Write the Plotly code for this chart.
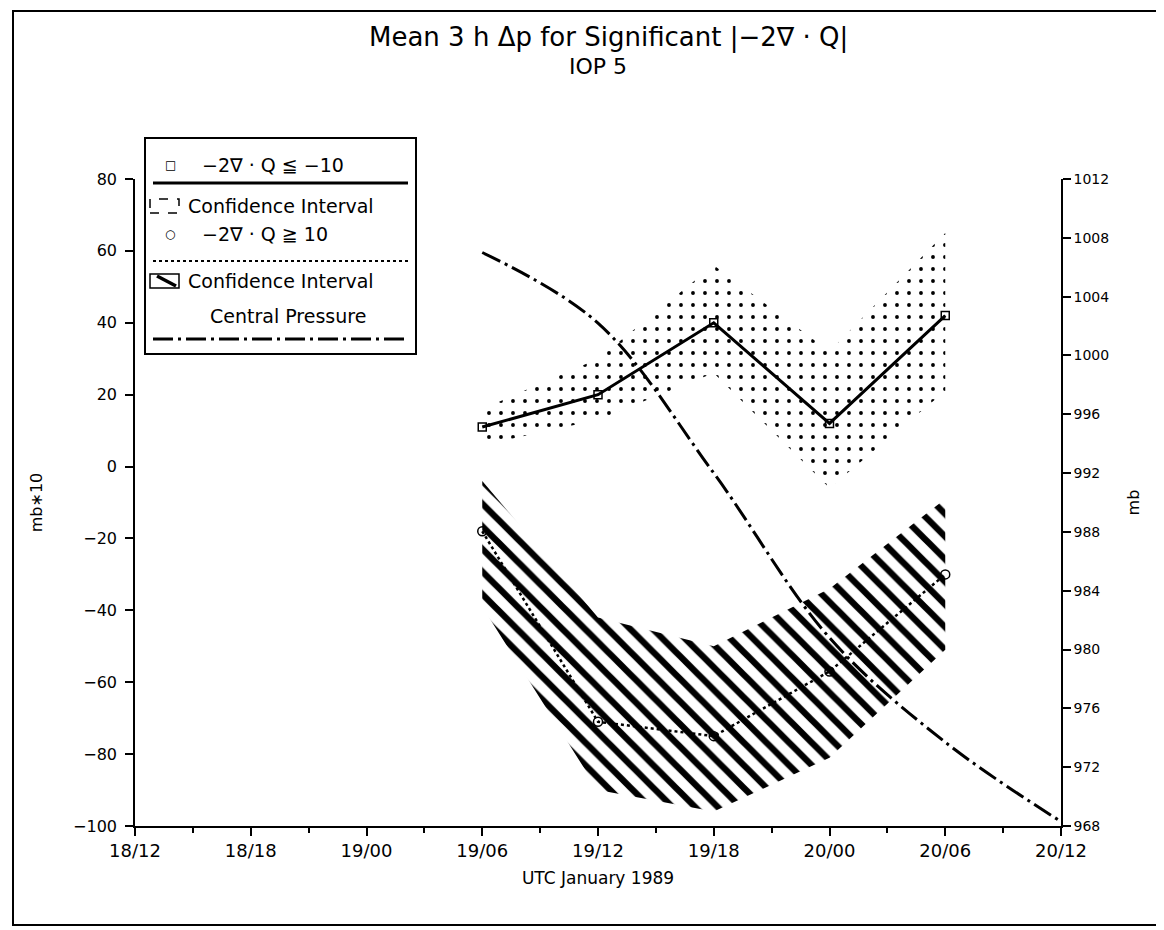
import plotly.graph_objects as go

# --- DATA ---
times = ["1989-01-19 06:00", "1989-01-19 12:00", "1989-01-19 18:00",
         "1989-01-20 00:00", "1989-01-20 06:00"]

# -2 div Q <= -10 : mean 3 h pressure change (mb*10) and its confidence interval
neg_mean = [11, 20, 40, 12, 42]
neg_low = [6, 13, 26, -6, 21]
neg_high = [16, 30, 56, 32, 65]

# -2 div Q >= 10 : mean 3 h pressure change (mb*10) and its confidence interval
pos_mean = [-18, -71, -75, -57, -30]
pos_low = [-39, -90, -96, -81, -51]
pos_high = [-4, -42, -50, -34, -9]

# central pressure (mb), right axis
cp_times = ["1989-01-19 06:00", "1989-01-19 12:00", "1989-01-19 18:00",
            "1989-01-20 00:00", "1989-01-20 06:00", "1989-01-20 12:00"]
cp_values = [1007, 1002.2, 992, 980.8, 973.7, 968.3]

FONT = "DejaVu Sans"

# pixel frame of the plot area
L, R, T, B = 127, 1053, 171, 818
W, H = 1164, 930


def px(x):
    return (x - L) / (R - L)


def py(y):
    return (B - y) / (B - T)


fig = go.Figure()

# confidence band for -2 div Q <= -10 (dotted)
fig.add_trace(go.Scatter(
    x=times + times[::-1], y=neg_high + neg_low[::-1],
    mode="lines", fill="toself", line=dict(width=0, color="black"),
    fillcolor="rgba(0,0,0,0)",
    fillpattern=dict(shape=".", size=12, solidity=0.08, fgcolor="black",
                     fgopacity=1, bgcolor="rgba(0,0,0,0)", fillmode="overlay"),
    showlegend=False, hoverinfo="skip"))

# confidence band for -2 div Q >= 10 (hatched)
fig.add_trace(go.Scatter(
    x=times + times[::-1], y=pos_high + pos_low[::-1],
    mode="lines", fill="toself", line=dict(width=0, color="black"),
    fillcolor="rgba(0,0,0,0)",
    fillpattern=dict(shape="\\", size=16, solidity=0.4, fgcolor="black",
                     fgopacity=1, bgcolor="rgba(0,0,0,0)", fillmode="overlay"),
    showlegend=False, hoverinfo="skip"))

fig.add_trace(go.Scatter(
    x=times, y=neg_mean, mode="lines+markers",
    line=dict(color="black", width=3),
    marker=dict(symbol="square-open", size=8, color="black", line=dict(width=1.5)),
    showlegend=False))

fig.add_trace(go.Scatter(
    x=times, y=pos_mean, mode="lines+markers",
    line=dict(color="black", width=2.5, dash="dot"),
    marker=dict(symbol="circle-open", size=9, color="black", line=dict(width=1.5)),
    showlegend=False))

DASHDOT = "20px,5px,3px,5px"
fig.add_trace(go.Scatter(
    x=cp_times, y=cp_values, mode="lines", yaxis="y2",
    line=dict(color="black", width=3, dash=DASHDOT, shape="spline"),
    showlegend=False))

# --- frame and custom legend box ---
shapes = [
    dict(type="rect", x0=px(5), x1=px(1160), y0=py(917), y1=py(3),
         line=dict(color="black", width=2)),
    dict(type="rect", x0=px(137), x1=px(408), y0=py(346), y1=py(130),
         line=dict(color="black", width=2), fillcolor="white"),
    dict(type="line", x0=px(145), x1=px(400), y0=py(175), y1=py(175),
         line=dict(color="black", width=3)),
    dict(type="rect", x0=px(142), x1=px(171), y0=py(205), y1=py(191),
         line=dict(color="black", width=1.5, dash="dash")),
    dict(type="line", x0=px(145), x1=px(400), y0=py(253), y1=py(253),
         line=dict(color="black", width=2, dash="dot")),
    dict(type="rect", x0=px(142), x1=px(171), y0=py(280), y1=py(266),
         line=dict(color="black", width=1.5)),
    dict(type="line", x0=px(149), x1=px(168), y0=py(268), y1=py(278),
         line=dict(color="black", width=3.5)),
    dict(type="line", x0=px(145), x1=px(400), y0=py(331), y1=py(331),
         line=dict(color="black", width=3, dash=DASHDOT)),
]
for s in shapes:
    s.update(xref="paper", yref="paper")

leg_font = dict(family=FONT, size=19, color="black")
sym_font = dict(family=FONT, size=12, color="black")
annotations = [
    dict(text="Mean 3 h \u0394p for Significant |\u22122\u2207 \u00b7 Q|", x=px(600), y=py(29),
         font=dict(family=FONT, size=26, color="black")),
    dict(text="IOP 5", x=px(590), y=py(58), font=dict(family=FONT, size=22, color="black")),
    dict(text="\u25a1", x=px(162), y=py(157), font=sym_font),
    dict(text="\u22122\u2207 \u00b7 Q \u2266 \u221210", x=px(192), y=py(157), xanchor="left"),
    dict(text="Confidence Interval", x=px(178), y=py(198), xanchor="left"),
    dict(text="\u25cb", x=px(162), y=py(226), font=sym_font),
    dict(text="\u22122\u2207 \u00b7 Q \u2267 10", x=px(192), y=py(226), xanchor="left"),
    dict(text="Confidence Interval", x=px(178), y=py(273), xanchor="left"),
    dict(text="Central Pressure", x=px(280), y=py(308)),
]
for a in annotations:
    a.update(xref="paper", yref="paper", showarrow=False, yanchor="middle")
    a.setdefault("font", leg_font)
    a.setdefault("xanchor", "center")

fig.update_layout(
    width=W, height=H,
    margin=dict(l=L, r=W - R, t=T, b=H - B),
    paper_bgcolor="white", plot_bgcolor="white",
    font=dict(family=FONT, color="black", size=15),
    xaxis=dict(
        type="date", range=["1989-01-18 12:00", "1989-01-20 12:00"],
        dtick=6 * 3600 * 1000, tick0="1989-01-18 12:00", tickformat="%d/%H",
        ticks="outside", ticklen=8, tickwidth=1.5, tickcolor="black",
        minor=dict(dtick=3 * 3600 * 1000, ticks="outside", ticklen=5, tickcolor="black"),
        showline=True, linecolor="black", linewidth=1.5, showgrid=False, zeroline=False,
        tickfont=dict(size=18),
        title=dict(text="UTC January 1989", font=dict(size=17), standoff=12),
    ),
    yaxis=dict(
        range=[-100, 80], dtick=20, ticks="outside", ticklen=8, tickwidth=1.5,
        tickcolor="black", showline=True, linecolor="black", linewidth=1.5,
        showgrid=False, zeroline=False, tickfont=dict(size=16), ticklabelstandoff=5,
        title=dict(text="mb\u221710", font=dict(size=16), standoff=26),
    ),
    yaxis2=dict(
        range=[968, 1012], dtick=4, overlaying="y", side="right",
        ticks="outside", ticklen=8, tickwidth=1.5, tickcolor="black",
        showline=True, linecolor="black", linewidth=1.5, showgrid=False,
        zeroline=False, tickfont=dict(size=14),
        title=dict(text="mb", font=dict(size=16), standoff=20),
    ),
    shapes=shapes,
    annotations=annotations,
)

fig.write_html("out.html")
